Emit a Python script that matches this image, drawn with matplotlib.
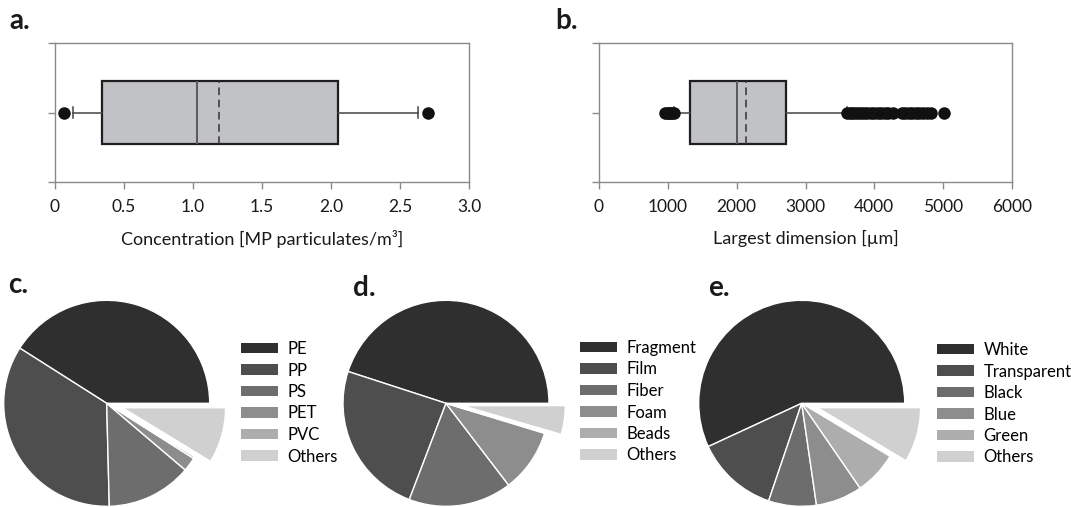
import matplotlib.pyplot as plt
from matplotlib.patches import Patch

plt.rcParams['font.family'] = ['Lato', 'DejaVu Sans']

W, H = 1071, 507

# box a: concentration
conc_stats = dict(med=1.03, q1=0.338, q3=2.05, whislo=0.128, whishi=2.63, mean=1.19)
conc_fliers = [0.065, 2.70]

# box b: largest dimension
size_stats = dict(med=2011, q1=1327, q3=2714, whislo=1090, whishi=3601, mean=2137)
size_fliers = [960, 985, 1010, 1035, 1060, 1085,
               3600, 3640, 3680, 3720, 3760, 3800, 3850, 3900, 3950, 4000,
               4050, 4100, 4150, 4200, 4270, 4400, 4450, 4500, 4550, 4600,
               4650, 4700, 4760, 4830, 5010]

# pies
polymer_labels = ['PE', 'PP', 'PS', 'PET', 'PVC', 'Others']
polymer_vals = [41.0, 34.4, 13.4, 2.2, 0.3, 8.7]
shape_labels = ['Fragment', 'Film', 'Fiber', 'Foam', 'Beads', 'Others']
shape_vals = [45.0, 24.2, 16.2, 9.9, 0.2, 4.5]
colour_labels = ['White', 'Transparent', 'Black', 'Blue', 'Green', 'Others']
colour_vals = [56.9, 12.9, 7.5, 7.3, 6.8, 8.6]

grays = ['#2f2f2f', '#4e4e4e', '#6d6d6d', '#8d8d8d', '#adadad', '#d0d0d0']

fig = plt.figure(figsize=(W / 100, H / 100), dpi=100)


def px_axes(x0, y0, x1, y1):
    return fig.add_axes([x0 / W, 1 - y1 / H, (x1 - x0) / W, (y1 - y0) / H])


def boxpanel(ax, st, fl, xmax, ticks, ticklabels, xlabel):
    s = dict(st)
    s['fliers'] = fl
    ax.bxp([s], positions=[1], widths=0.9, vert=False, showmeans=True, meanline=True,
           patch_artist=True,
           boxprops=dict(facecolor='#c1c2c5', edgecolor='#1e1e1e', linewidth=1.6),
           medianprops=dict(color='#5a5a5a', linewidth=1.4),
           meanprops=dict(color='#333333', linewidth=1.1, linestyle=(0, (5, 3))),
           whiskerprops=dict(color='#444444', linewidth=1.1),
           capprops=dict(color='#444444', linewidth=1.1),
           capwidths=0.15,
           flierprops=dict(marker='o', markerfacecolor='#111111',
                           markeredgecolor='#111111', markersize=8))
    ax.set_xlim(0, xmax)
    ax.set_ylim(0, 2)
    ax.set_xticks(ticks)
    ax.set_xticklabels(ticklabels, fontsize=12.5)
    ax.set_yticks([0, 1, 2])
    ax.set_yticklabels([])
    for sp in ax.spines.values():
        sp.set_color('#8a8a8a')
        sp.set_linewidth(1.0)
    ax.tick_params(colors='#8a8a8a', labelcolor='#1a1a1a', length=5, width=1, pad=7)
    ax.set_xlabel(xlabel, fontsize=13, color='#1a1a1a', labelpad=11)


ax_a = px_axes(55, 43, 469, 182)
boxpanel(ax_a, conc_stats, conc_fliers, 3.0, [0, 0.5, 1, 1.5, 2, 2.5, 3],
         ['0', '0.5', '1.0', '1.5', '2.0', '2.5', '3.0'],
         'Concentration [MP particulates/m³]')

ax_b = px_axes(599, 43, 1012, 182)
boxpanel(ax_b, size_stats, size_fliers, 6000, [0, 1000, 2000, 3000, 4000, 5000, 6000],
         ['0', '1000', '2000', '3000', '4000', '5000', '6000'],
         'Largest dimension [µm]')


def piepanel(cx, cy, vals, labels, leg_x, leg_y):
    r = 103
    L = 1.25
    ax = px_axes(cx - L * r, cy - L * r, cx + L * r, cy + L * r)
    explode = [0, 0, 0, 0, 0, 0.16]
    ax.pie(vals, colors=grays, startangle=0, counterclock=True, explode=explode,
           wedgeprops=dict(edgecolor='white', linewidth=1.0))
    ax.set_xlim(-L, L)
    ax.set_ylim(-L, L)
    ax.set_aspect('auto')
    ax.axis('off')
    handles = [Patch(facecolor=c, edgecolor='none') for c in grays]
    fig.legend(handles, labels, loc='upper left',
               bbox_to_anchor=(leg_x / W, 1 - leg_y / H), frameon=False,
               fontsize=12, handlelength=2.2, handleheight=0.6, handletextpad=0.6,
               labelspacing=0.33, borderpad=0, borderaxespad=0)


piepanel(106.7, 403.3, polymer_vals, polymer_labels, 241, 341)
piepanel(446, 403.3, shape_vals, shape_labels, 580, 340)
piepanel(801.7, 403.3, colour_vals, colour_labels, 937, 342)

for lab, x, y in [('a.', 9, 21), ('b.', 555, 21), ('c.', 8, 285), ('d.', 353, 288), ('e.', 708, 288)]:
    fig.text(x / W, 1 - y / H, lab, fontsize=20, fontweight='bold', va='center', ha='left',
             color='#1a1a1a')

fig.savefig('out.png', dpi=100)
